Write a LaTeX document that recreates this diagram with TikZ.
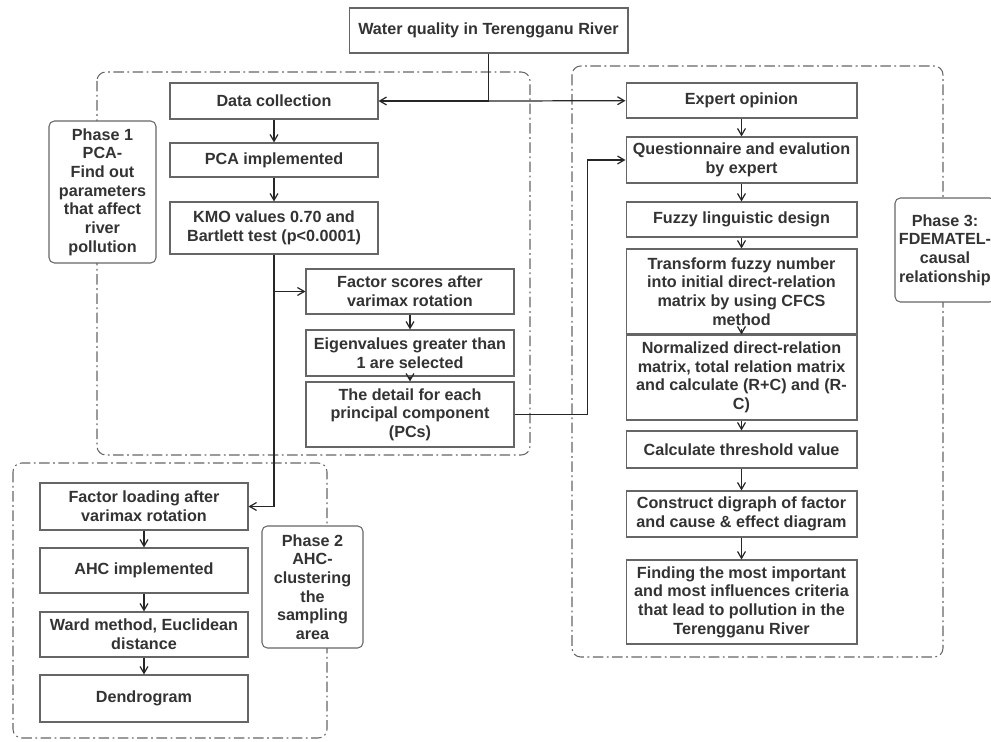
\documentclass[tikz,border=0pt]{standalone}
\usepackage{fontspec}
\setmainfont{Liberation Sans}
\usetikzlibrary{arrows}

\begin{document}
\begin{tikzpicture}[x=0.02cm, y=-0.02cm, >=angle 60,
  every node/.style={font=\fontsize{9.2}{10.6}\selectfont\bfseries, text=black!80},
  box/.style={draw=black!60, line width=.6pt, fill=white, align=center, inner sep=1pt, minimum width=4.16cm},
  wbox/.style={box, minimum width=4.62cm},
  phase/.style={draw=black!60, line width=.6pt, fill=white, align=center, rounded corners=3pt, inner sep=1pt},
  region/.style={draw=black!60, line width=.6pt, dash pattern=on 6pt off 2pt on 1pt off 2pt, rounded corners=5pt},
  link/.style={->, black!85, line width=.7pt}]
\useasboundingbox (0,0) rectangle (991,742);

% phase areas
\draw[region] (97,72) rectangle (530,455);
\draw[region] (13,463) rectangle (327,738);
\draw[region] (572,66) rectangle (943,657);

\node[box, minimum width=5.58cm, minimum height=.9cm] (wq) at (488.5,30.5) {Water quality in Terengganu River};

% phase 1
\node[box, minimum height=.72cm] (dc) at (274,101) {Data collection};
\node[box, minimum height=.68cm] (pca) at (274,160) {PCA implemented};
\node[box, minimum height=1.04cm] (kmo) at (274,228) {KMO values 0.70 and\\Bartlett test (p<0.0001)};
\node[box, minimum height=.9cm] (fs) at (410,291.5) {Factor scores after\\varimax rotation};
\node[box, minimum height=.92cm] (eig) at (410,353) {Eigenvalues greater than\\1 are selected};
\node[box, minimum height=1.3cm] (det) at (410,414.5) {The detail for each\\principal component\\(PCs)};
\node[phase, minimum width=2.14cm, minimum height=2.84cm] (p1) at (102.5,192) {Phase 1\\PCA-\\Find out\\parameters\\that affect\\river\\pollution};

% phase 2
\node[box, minimum height=.94cm] (fl) at (144,506.5) {Factor loading after\\varimax rotation};
\node[box, minimum height=.9cm] (ahc) at (144,570.5) {AHC implemented};
\node[box, minimum height=.9cm] (ward) at (144,634.5) {Ward method, Euclidean\\distance};
\node[box, minimum height=.94cm] (den) at (144,698.5) {Dendrogram};
\node[phase, minimum width=2.02cm, minimum height=2.44cm] (p2) at (312.5,587) {Phase 2\\AHC-\\clustering\\the\\sampling\\area};

% phase 3
\node[wbox, minimum height=.7cm] (eo) at (741.5,100.5) {Expert opinion};
\node[wbox, minimum height=.92cm] (qe) at (741.5,160) {Questionnaire and evalution\\by expert};
\node[wbox, minimum height=.7cm] (fz) at (741.5,219.5) {Fuzzy linguistic design};
\node[wbox, minimum height=1.7cm] (tf) at (741.5,291.5) {Transform fuzzy number\\into initial direct-relation\\matrix by using CFCS\\method};
\node[wbox, minimum height=1.7cm] (nm) at (741.5,377.5) {Normalized direct-relation\\matrix, total relation matrix\\and calculate (R+C) and (R-\\C)};
\node[wbox, minimum height=.74cm] (ct) at (741.5,449.5) {Calculate threshold value};
\node[wbox, minimum height=.92cm] (cd) at (741.5,514) {Construct digraph of factor\\and cause \& effect diagram};
\node[wbox, minimum height=1.68cm] (fd) at (741.5,602) {Finding the most important\\and most influences criteria\\that lead to pollution in the\\Terengganu River};
\node[phase, minimum width=2.0cm, minimum height=2.08cm] (p3) at (945,250) {Phase 3:\\FDEMATEL-\\causal\\relationship};

% connectors
\coordinate (split) at (wq.south |- dc.east);
\draw[black!85, line width=.7pt] (wq) -- (split);
\draw[link] (split) -- (dc);
\draw[link] (split) -- (eo);
\foreach \a/\b in {dc/pca,pca/kmo,fs/eig,eig/det,fl/ahc,ahc/ward,ward/den,eo/qe,qe/fz,fz/tf,nm/ct,ct/cd,cd/fd}
  \draw[link] (\a) -- (\b);
\draw[link] ([yshift=3pt]tf.south) -- (nm.north);
\draw[link] (kmo) |- (fl);
\draw[link] (kmo.south |- fs.west) -- (fs);
\draw[link] (det.east) -- ++(73,0) |- (qe);

\end{tikzpicture}
\end{document}
